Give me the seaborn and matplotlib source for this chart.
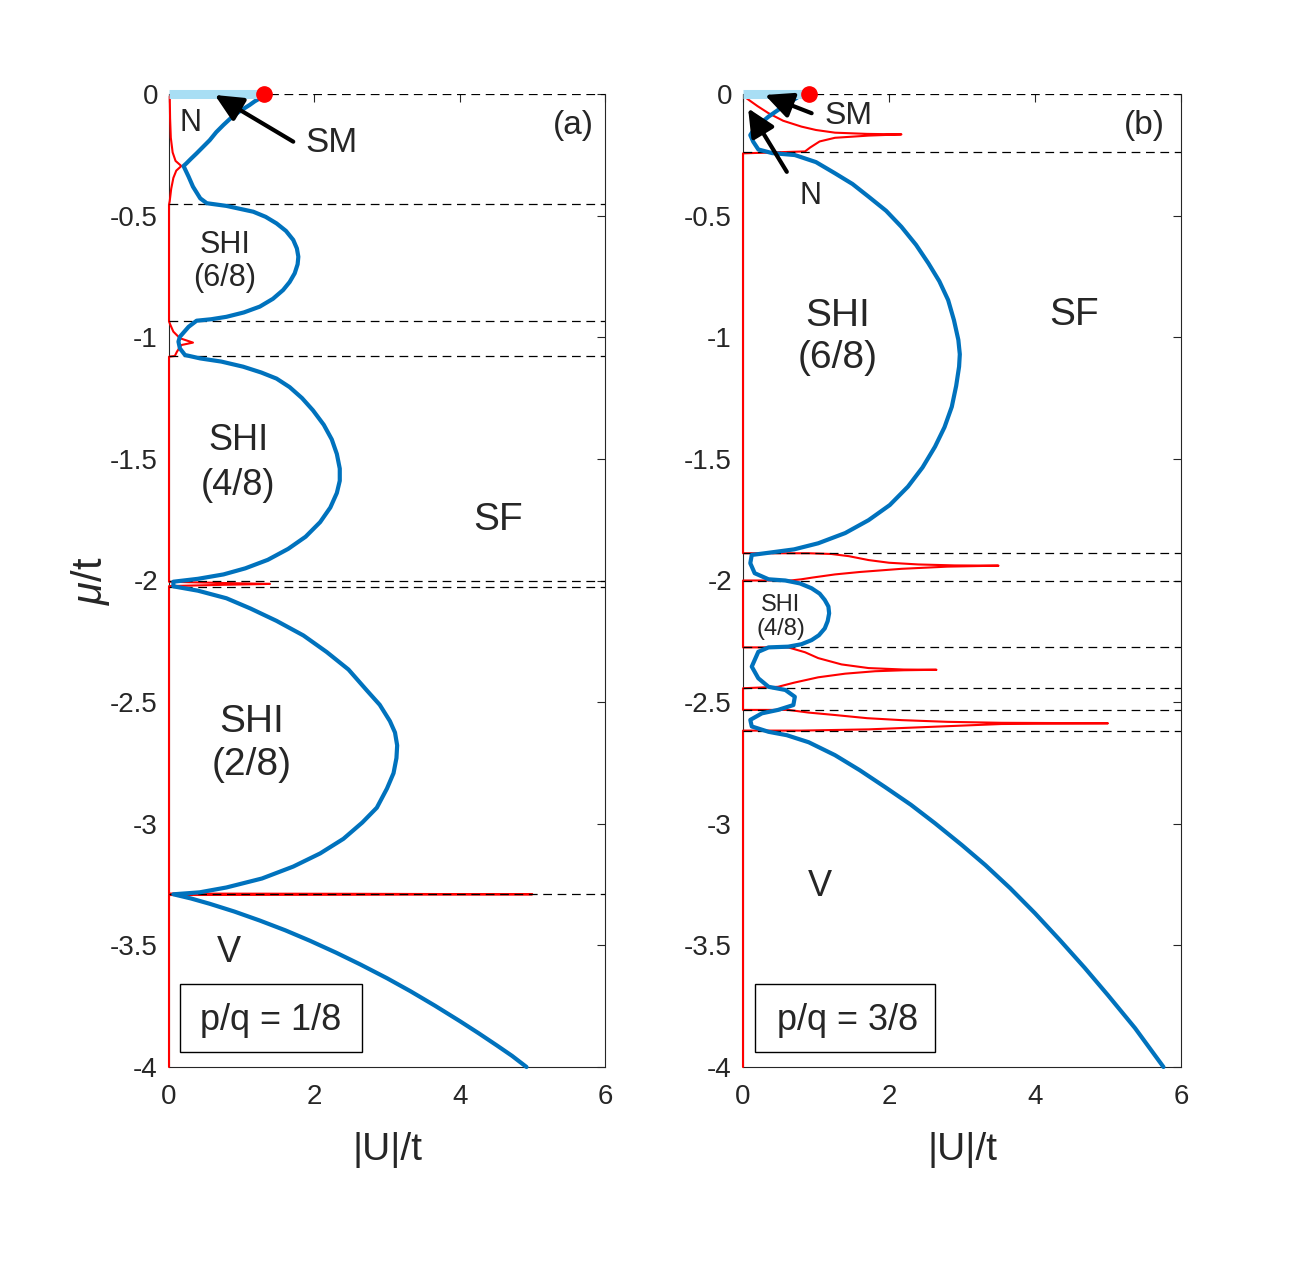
import numpy as np
import pandas as pd
import matplotlib
matplotlib.use("Agg")
import matplotlib.pyplot as plt
import matplotlib.patches as mpatches
import seaborn as sns

# ---------------- data ----------------
# Panel (a) p/q = 1/8 : blue phase boundary, in drawing order
a_blue_x = [1.25, 1.18, 1.11, 1.02, 0.93, 0.84, 0.75, 0.65, 0.56, 0.47, 0.38, 0.30, 0.24, 0.20,
            0.27, 0.33, 0.43, 0.52, 0.79, 1.16, 1.33, 1.48, 1.61, 1.71, 1.76, 1.78, 1.77, 1.73,
            1.66, 1.57, 1.43, 1.25, 1.03, 0.79, 0.58, 0.38, 0.27, 0.15, 0.13, 0.15, 0.22,
            0.43, 0.72, 1.02, 1.27, 1.48, 1.66, 1.83, 1.98, 2.13, 2.24, 2.31, 2.35, 2.35, 2.31,
            2.22, 2.08, 1.88, 1.64, 1.36, 1.05, 0.75, 0.40, 0.06,
            0.06, 0.40, 0.79, 1.12, 1.48, 1.85, 2.17, 2.47, 2.72, 2.90, 3.04, 3.11, 3.14,
            3.13, 3.09, 3.00, 2.86, 2.66, 2.40, 2.08, 1.71, 1.28, 0.79, 0.42, 0.06,
            0.30, 0.56, 0.90, 1.25, 1.60, 1.94, 2.30, 2.63, 3.00, 3.32, 3.66, 4.00, 4.26,
            4.51, 4.72, 4.92]
a_blue_y = [-0.018, -0.030, -0.045, -0.062, -0.080, -0.102, -0.127, -0.157, -0.190, -0.217, -0.244,
            -0.267, -0.285, -0.296,
            -0.340, -0.381, -0.429, -0.449, -0.460, -0.484, -0.505, -0.532, -0.563, -0.600, -0.635,
            -0.669, -0.700, -0.737, -0.773, -0.806, -0.842, -0.874, -0.898, -0.916, -0.926, -0.932,
            -0.957, -0.998, -1.018, -1.046, -1.073,
            -1.087, -1.100, -1.121, -1.145, -1.170, -1.205, -1.250, -1.300, -1.360, -1.420, -1.480,
            -1.540, -1.590, -1.640, -1.700, -1.760, -1.820, -1.870, -1.915, -1.950, -1.975, -1.993,
            -2.005,
            -2.024, -2.042, -2.073, -2.115, -2.166, -2.226, -2.294, -2.366, -2.451, -2.511, -2.578,
            -2.625, -2.678, -2.730, -2.792, -2.855, -2.934, -2.995, -3.062, -3.122, -3.176, -3.225,
            -3.262, -3.282, -3.290,
            -3.307, -3.329, -3.361, -3.398, -3.438, -3.481, -3.530, -3.578, -3.635, -3.688, -3.748,
            -3.811, -3.861, -3.911, -3.954, -4.000]
# red boundary (a)
a_red_x = [0.01, 0.015, 0.025, 0.05, 0.09, 0.17, 0.10, 0.06, 0.03, 0.01, 0.0,
           0.0, 0.02, 0.06, 0.15, 0.33, 0.17, 0.11, 0.08, 0.0,
           0.0, 0.70, 1.39, 0.70, 0.0, 0.0, 2.5, 5.0, 2.5, 0.0, 0.0]
a_red_y = [-0.01, -0.10, -0.18, -0.24, -0.275, -0.296, -0.315, -0.345, -0.39, -0.44, -0.455,
           -0.935, -0.95, -0.977, -1.004, -1.022, -1.032, -1.059, -1.077, -1.08,
           -2.005, -2.010, -2.014, -2.018, -2.023, -3.287, -3.288, -3.29, -3.292, -3.293, -4.0]
a_dash_y = [0.0, -0.452, -0.935, -1.078, -2.003, -2.026, -3.29]
a_sm_end = 1.25
a_dot = (1.31, 0.0)

# Panel (b) p/q = 3/8
b_blue_x = [0.80, 0.58, 0.35, 0.16, 0.10, 0.14, 0.21, 0.40, 0.71, 1.00, 1.26, 1.50, 1.72, 1.96,
            2.17, 2.37, 2.54, 2.69, 2.81, 2.89, 2.95, 2.97, 2.96, 2.92, 2.86, 2.76, 2.63, 2.46,
            2.26, 2.01, 1.72, 1.40, 1.03, 0.70, 0.35, 0.12, 0.10,
            0.16, 0.35, 0.58, 0.78, 0.94, 1.05, 1.12, 1.17, 1.18, 1.16, 1.12, 1.04, 0.94, 0.80,
            0.62, 0.35, 0.21, 0.12,
            0.21, 0.35, 0.58, 0.71, 0.69, 0.48, 0.26, 0.10, 0.12, 0.35,
            0.60, 0.90, 1.26, 1.60, 1.95, 2.30, 2.63, 3.00, 3.32, 3.66, 4.00, 4.34, 4.68, 5.00,
            5.37, 5.76]
b_blue_y = [-0.004, -0.045, -0.093, -0.141, -0.169, -0.196, -0.228, -0.243, -0.251, -0.280,
            -0.326, -0.370, -0.422, -0.480, -0.546, -0.620, -0.696, -0.770, -0.847, -0.930, -1.011,
            -1.070, -1.121, -1.200, -1.286, -1.370, -1.450, -1.535, -1.614, -1.690, -1.752, -1.805,
            -1.847, -1.872, -1.886, -1.895, -1.929,
            -1.970, -1.995, -2.000, -2.012, -2.032, -2.054, -2.080, -2.107, -2.135, -2.167, -2.197,
            -2.225, -2.245, -2.262, -2.272, -2.275, -2.293, -2.354,
            -2.402, -2.437, -2.450, -2.478, -2.512, -2.532, -2.546, -2.573, -2.600, -2.622,
            -2.636, -2.665, -2.718, -2.780, -2.850, -2.922, -2.998, -3.088, -3.170, -3.265, -3.368,
            -3.478, -3.592, -3.705, -3.840, -4.000]
b_red_x = [0.05, 0.20, 0.35, 0.55, 0.80, 1.00, 1.26, 1.70, 2.17, 1.72, 1.26, 1.05, 0.92, 0.85, 0.0,
           0.0, 0.90, 1.21, 1.45, 1.72, 2.00, 2.40, 2.90, 3.50, 2.80, 2.17, 1.60, 1.26, 0.95, 0.80,
           0.65, 0.0,
           0.0, 0.62, 0.85, 1.03, 1.35, 1.72, 2.20, 2.65, 2.20, 1.81, 1.40, 1.03, 0.70, 0.48, 0.0,
           0.0, 0.62, 0.90, 1.26, 1.70, 2.17, 2.80, 3.54, 5.0, 3.54, 2.63, 1.72, 0.80, 0.0, 0.0]
b_red_y = [-0.018, -0.050, -0.079, -0.110, -0.134, -0.148, -0.159, -0.164, -0.166, -0.171, -0.180,
           -0.195, -0.220, -0.236, -0.244,
           -1.888, -1.888, -1.891, -1.900, -1.916, -1.927, -1.934, -1.938, -1.939, -1.943, -1.952,
           -1.965, -1.975, -1.988, -1.995, -2.0, -2.0,
           -2.275, -2.275, -2.295, -2.319, -2.345, -2.360, -2.366, -2.367, -2.369, -2.373, -2.383,
           -2.398, -2.420, -2.437, -2.443,
           -2.532, -2.532, -2.543, -2.553, -2.566, -2.574, -2.581, -2.585, -2.587, -2.590, -2.601,
           -2.612, -2.617, -2.617, -4.0]
b_dash_y = [0.0, -0.238, -1.888, -2.0, -2.275, -2.443, -2.532, -2.617]
b_sm_end = 0.85
b_dot = (0.90, 0.0)

x_ticks = [0, 2, 4, 6]
y_ticks = [0, -0.5, -1, -1.5, -2, -2.5, -3, -3.5, -4]
y_ticklabels = ["0", "-0.5", "-1", "-1.5", "-2", "-2.5", "-3", "-3.5", "-4"]

# ---------------- style ----------------
sns.set_style("white")
plt.rcParams["font.family"] = ["Liberation Sans", "DejaVu Sans"]
plt.rcParams["mathtext.fontset"] = "custom"
plt.rcParams["mathtext.it"] = "Liberation Sans:italic"
plt.rcParams["mathtext.rm"] = "Liberation Sans"
plt.rcParams["axes.unicode_minus"] = False

BLUE = "#0072BD"
RED = "#FF0000"
LIGHT = "#A8DEF4"
AXC = "#262626"

fig = plt.figure(figsize=(13.05, 12.63), dpi=100)
W, H = 1305, 1263
ax_a = fig.add_axes([169 / W, 1 - 1067 / H, 436 / W, 973 / H])
ax_b = fig.add_axes([743 / W, 1 - 1067 / H, 438 / W, 973 / H])


def setup(ax):
    ax.set_xlim(0, 6)
    ax.set_ylim(-4, 0)
    ax.set_xticks(x_ticks)
    ax.set_xticklabels([str(t) for t in x_ticks])
    ax.set_yticks(y_ticks)
    ax.set_yticklabels(y_ticklabels)
    ax.tick_params(direction="in", length=6, width=0.8, top=True, right=True,
                   colors=AXC, labelsize=20)
    ax.tick_params(axis="x", pad=12)
    ax.tick_params(axis="y", pad=8)
    for s in ["left", "right", "bottom"]:
        ax.spines[s].set_color(AXC)
        ax.spines[s].set_linewidth(0.8)
    ax.spines["top"].set_visible(False)


def draw(ax, bx, by, rx, ry, dash_y, sm_end, dot):
    red = pd.DataFrame({"U": rx, "mu": ry})
    blue = pd.DataFrame({"U": bx, "mu": by})
    sns.lineplot(data=red, x="U", y="mu", sort=False, estimator=None, ax=ax,
                 color=RED, linewidth=1.5, zorder=2.6, clip_on=False)
    for yv in dash_y:
        ax.axhline(yv, color="black", linewidth=0.9, linestyle=(0, (7, 4.5)), zorder=2.7)
    sns.lineplot(data=blue, x="U", y="mu", sort=False, estimator=None, ax=ax,
                 color=BLUE, linewidth=3.0, zorder=2.8, clip_on=False,
                 solid_joinstyle="round", solid_capstyle="round")
    ax.plot([0, sm_end], [0, 0], color=LIGHT, linewidth=6.5, solid_capstyle="butt",
            zorder=2.9, clip_on=False)
    ax.plot([dot[0]], [dot[1]], "o", color=RED, markersize=11, zorder=3.0, clip_on=False)
    ax.set_ylabel("")


setup(ax_a)
setup(ax_b)
draw(ax_a, a_blue_x, a_blue_y, a_red_x, a_red_y, a_dash_y, a_sm_end, a_dot)
draw(ax_b, b_blue_x, b_blue_y, b_red_x, b_red_y, b_dash_y, b_sm_end, b_dot)
for ax in (ax_a, ax_b):
    ax.set_xlabel("|U|/t", fontsize=28, color=AXC)
    ax.xaxis.set_label_coords(0.5, -0.0853)
    ax.xaxis.label.set_va("center")

ax_a.set_ylabel(r"$\mu$/t", fontsize=30, color=AXC)
ax_a.yaxis.set_label_coords(-0.181, 0.5)
ax_a.yaxis.label.set_va("center")

arrow = dict(arrowstyle="-|>,head_length=0.7,head_width=0.33", color="black",
             lw=3, mutation_scale=24, shrinkA=0, shrinkB=0)

# Panel (a) annotations
ax_a.text(0.29, -0.12, "N", fontsize=22, ha="center", va="center")
ax_a.text(2.23, -0.20, "SM", fontsize=25, ha="center", va="center")
ax_a.annotate("", xy=(0.63, -0.004), xytext=(1.71, -0.196), arrowprops=arrow, zorder=7)
ax_a.text(0.77, -0.62, "SHI", fontsize=22, ha="center", va="center")
ax_a.text(0.77, -0.755, "(6/8)", fontsize=22, ha="center", va="center")
ax_a.text(0.95, -1.425, "SHI", fontsize=26, ha="center", va="center")
ax_a.text(0.95, -1.61, "(4/8)", fontsize=26, ha="center", va="center")
ax_a.text(1.14, -2.58, "SHI", fontsize=28, ha="center", va="center")
ax_a.text(1.14, -2.76, "(2/8)", fontsize=28, ha="center", va="center")
ax_a.text(4.53, -1.75, "SF", fontsize=28, ha="center", va="center")
ax_a.text(0.83, -3.53, "V", fontsize=26, ha="center", va="center")
ax_a.text(5.56, -0.13, "(a)", fontsize=24, ha="center", va="center")
ax_a.add_patch(mpatches.Rectangle((0.15, -3.94), 2.51, 0.28, fill=False,
                                  edgecolor="black", linewidth=1.0, zorder=6))
ax_a.text(1.40, -3.807, "p/q = 1/8", fontsize=26, ha="center", va="center")

# Panel (b) annotations
ax_b.text(1.44, -0.09, "SM", fontsize=23, ha="center", va="center")
ax_b.annotate("", xy=(0.30, -0.004), xytext=(0.94, -0.079), arrowprops=arrow, zorder=7)
ax_b.text(0.92, -0.42, "N", fontsize=22, ha="center", va="center")
ax_b.annotate("", xy=(0.07, -0.059), xytext=(0.60, -0.32), arrowprops=arrow, zorder=7)
ax_b.text(5.5, -0.13, "(b)", fontsize=24, ha="center", va="center")
ax_b.text(4.53, -0.91, "SF", fontsize=28, ha="center", va="center")
ax_b.text(1.29, -0.914, "SHI", fontsize=28, ha="center", va="center")
ax_b.text(1.29, -1.086, "(6/8)", fontsize=28, ha="center", va="center")
ax_b.text(0.52, -2.10, "SHI", fontsize=17, ha="center", va="center")
ax_b.text(0.52, -2.20, "(4/8)", fontsize=17, ha="center", va="center")
ax_b.text(1.05, -3.26, "V", fontsize=26, ha="center", va="center")
ax_b.add_patch(mpatches.Rectangle((0.16, -3.94), 2.47, 0.28, fill=False,
                                  edgecolor="black", linewidth=1.0, zorder=6))
ax_b.text(1.43, -3.807, "p/q = 3/8", fontsize=26, ha="center", va="center")

fig.savefig("out.png", dpi=100)
